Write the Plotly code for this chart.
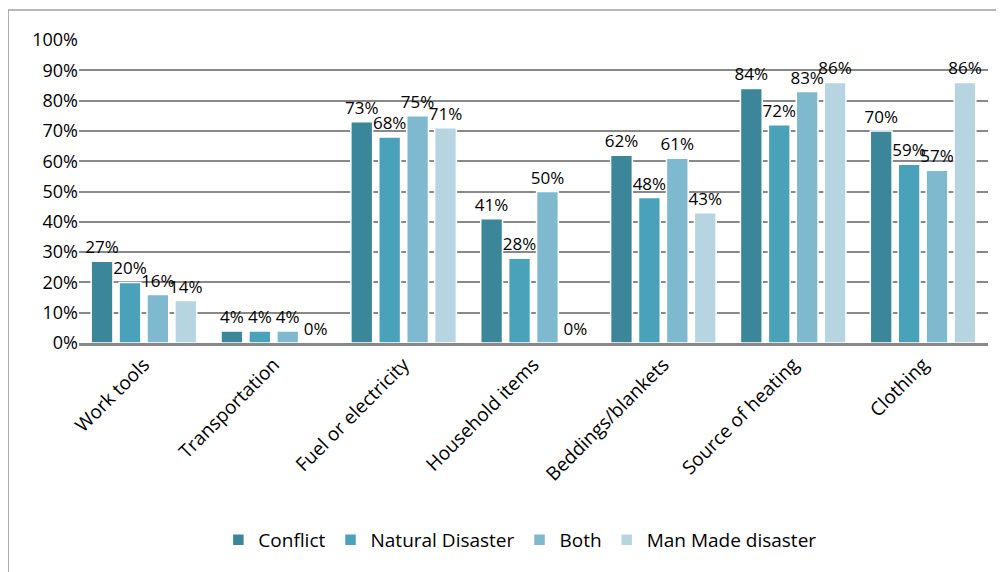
import plotly.graph_objects as go

categories = ['Work tools', 'Transportation', 'Fuel or electricity', 'Household items',
              'Beddings/blankets', 'Source of heating', 'Clothing']
conflict = [27, 4, 73, 41, 62, 84, 70]
natural_disaster = [20, 4, 68, 28, 48, 72, 59]
both = [16, 4, 75, 50, 61, 83, 57]
man_made = [14, 0, 71, 0, 43, 86, 86]

series = [
    ('Conflict', conflict, '#3b8699'),
    ('Natural Disaster', natural_disaster, '#49a2ba'),
    ('Both', both, '#7fb9cf'),
    ('Man Made disaster', man_made, '#b6d5e0'),
]

font = 'Open Sans'

fig = go.Figure()
for name, vals, col in series:
    fig.add_trace(go.Bar(
        x=categories, y=vals, name=name,
        marker=dict(color=col, line=dict(color='white', width=1.5)),
        text=[f'{v}%' for v in vals],
        textposition='outside',
        constraintext='none',
        cliponaxis=False,
        textfont=dict(family=font, size=17, color='black'),
    ))

# page body has an 8px margin, so margins are shifted accordingly
fig.update_layout(
    width=1004, height=572,
    margin={"l": 71, "r": 24, "t": 32, "b": 237, "autoexpand": False},
    paper_bgcolor='white',
    plot_bgcolor='white',
    barmode='group',
    bargap=0.14,
    bargroupgap=0.22,
    font=dict(family=font, size=18, color='black'),
    legend=dict(orientation='h', x=0.485, xanchor='center', y=-0.65, yanchor='middle',
                font=dict(family=font, size=19), itemwidth=30, traceorder='normal'),
    showlegend=True,
)
fig.update_yaxes(range=[0, 100], dtick=10, ticksuffix='%', showgrid=True,
                 gridcolor='#888888', gridwidth=2, zeroline=False,
                 tickfont=dict(family=font, size=18), ticks='', fixedrange=True)
fig.update_xaxes(tickangle=-45, showline=True, linecolor='#888888', linewidth=3,
                 tickfont=dict(family=font, size=19), ticks='')

# outer frame
fig.add_shape(type='rect', xref='paper', yref='paper',
              x0=-0.078, x1=1.03, y0=-0.8, y1=1.099,
              line=dict(color='#a0a0a0', width=1.5), layer='below')

fig.write_html("out.html")
